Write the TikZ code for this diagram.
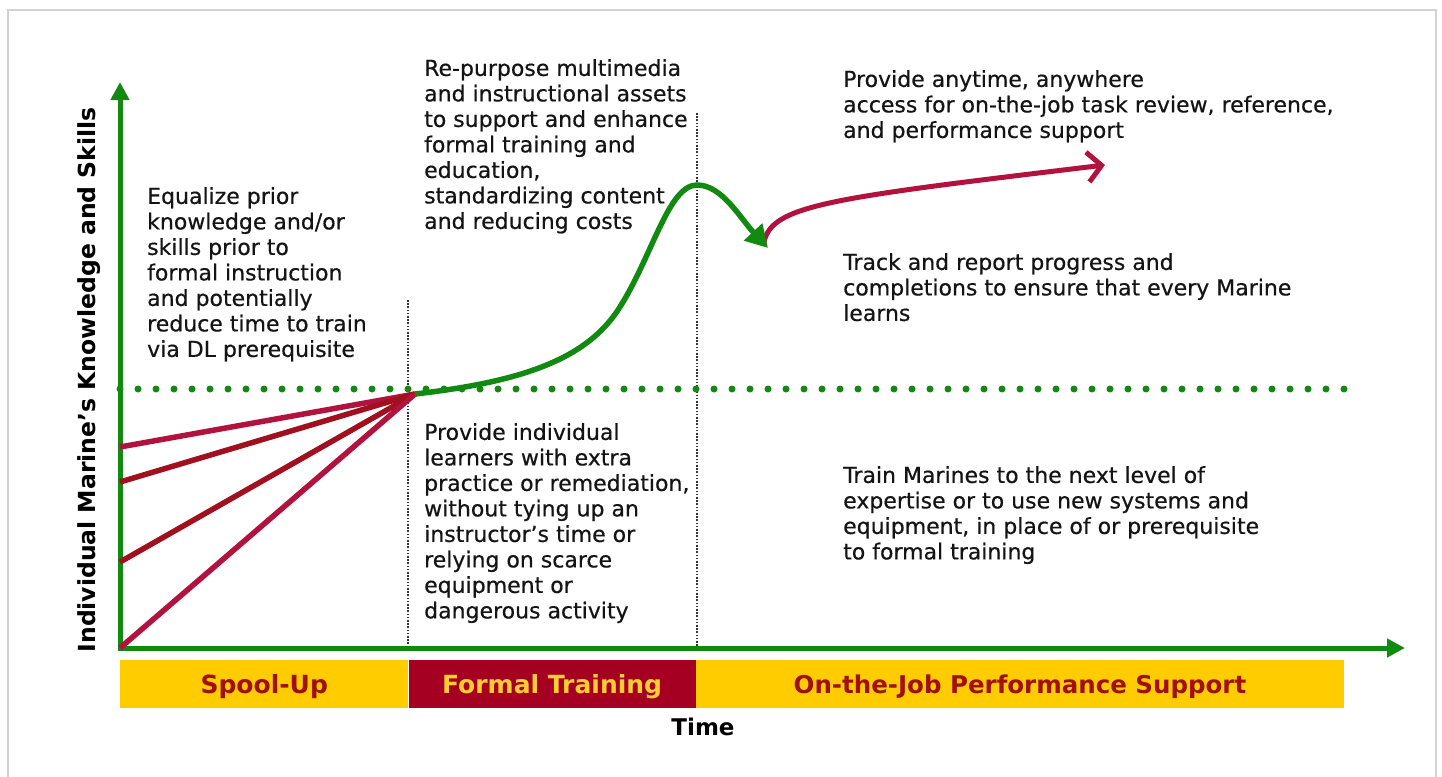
\documentclass[tikz,border=0pt]{standalone}
\usepackage{fontspec}
\setmainfont{DejaVu Sans}
\newfontfamily\bodyfont{DejaVu Sans}[FakeBold=0.5]
\usetikzlibrary{arrows.meta}
\definecolor{axgreen}{RGB}{18,138,18}
\definecolor{bandyel}{RGB}{255,204,0}
\definecolor{bandred}{RGB}{165,0,33}
\definecolor{labred}{RGB}{160,16,16}
\definecolor{labyel}{RGB}{255,204,51}
\definecolor{redA}{RGB}{178,18,62}
\definecolor{redB}{RGB}{160,16,30}
\begin{document}
\begin{tikzpicture}[x=1pt,y=-1pt,
  txt/.style={anchor=north west,align=left,inner sep=0pt,text=black!92,font=\bodyfont\fontsize{22}{25.5}\selectfont},
  band/.style={minimum height=48pt,inner sep=0pt,text depth=0pt,font=\fontsize{25}{30}\bfseries\selectfont}]
\useasboundingbox (0,0) rectangle (1442,776);
\draw[gray!35,line width=2pt] (8,790) -- (8,10) -- (1436,10) -- (1436,790);
% phase borders
\draw[black!80,line width=1.6pt,dash pattern=on 1.6pt off 1.6pt] (408,300) -- (408,648);
\draw[black!80,line width=1.6pt,dash pattern=on 1.6pt off 1.6pt] (697,113) -- (697,648);
\draw[axgreen,line width=7pt,line cap=round,dash pattern=on 0pt off 18pt] (120,389) -- (1352,389);
% axes
\coordinate (o) at (120,648);
\coordinate (ytop) at (120,82);
\coordinate (xend) at (1405,648);
\draw[axgreen,line width=5pt,{Triangle[length=18pt,width=18pt]}-{Triangle[length=18pt,width=18pt]}] (ytop) -- (o) -- (xend);
% learners meet the entry level
\coordinate (p) at (415,394);
\foreach \y/\c in {447/redA,482/redB,562/redB,648/redA}
  \draw[\c,line width=5.5pt] (120,\y) -- (p);
\coordinate (peak) at (697,185);
\coordinate (dip) at (768,248);
\coordinate (far) at (1105,165);
\draw[redA,line width=5pt,-{Straight Barb[length=14pt,width=30pt]}] (764,242) .. controls (772,205) and (830,198) .. (far);
\draw[axgreen,line width=5.5pt,-{Triangle[length=22pt,width=24pt]}] (p) .. controls (520,382) and (585,360) .. (618,310) .. controls (652,258) and (668,185) .. (peak) .. controls (722,185) and (740,218) .. (dip);
% texts
\node[txt] (t1) at (147,187) {Equalize prior\\knowledge and/or\\skills prior to\\formal instruction\\and potentially\\reduce time to train\\via DL prerequisite};
\node[txt] (t2) at (424,59) {Re-purpose multimedia\\and instructional assets\\to support and enhance\\formal training and\\education,\\standardizing content\\and reducing costs};
\node[txt] (t3) at (843,70) {Provide anytime, anywhere\\access for on-the-job task review, reference,\\and performance support};
\node[txt] (t4) at (843,253) {Track and report progress and\\completions to ensure that every Marine\\learns};
\node[txt] (t5) at (424,423) {Provide individual\\learners with extra\\practice or remediation,\\without tying up an\\instructor’s time or\\relying on scarce\\equipment or\\dangerous activity};
\node[txt] (t6) at (843,466) {Train Marines to the next level of\\expertise or to use new systems and\\equipment, in place of or prerequisite\\to formal training};
% phases
\node[band,fill=bandyel,text=labred,minimum width=288pt,anchor=north west] (sp) at (120,660) {Spool-Up};
\node[band,fill=bandred,text=labyel,minimum width=287pt,anchor=west] (ft) at (sp.east) {Formal Training};
\node[band,fill=bandyel,text=labred,minimum width=648pt,anchor=west,font=\fontsize{24.5}{30}\bfseries\selectfont] (oj) at (ft.east) {On-the-Job Performance Support};
\node[font=\fontsize{23}{28}\bfseries\selectfont,text depth=0pt] (tm) at (703,727) {Time};
\node[rotate=90,font=\fontsize{23.5}{28}\bfseries\selectfont,text depth=0pt] (yl) at (87,380) {Individual Marine’s Knowledge and Skills};
\end{tikzpicture}
\end{document}
